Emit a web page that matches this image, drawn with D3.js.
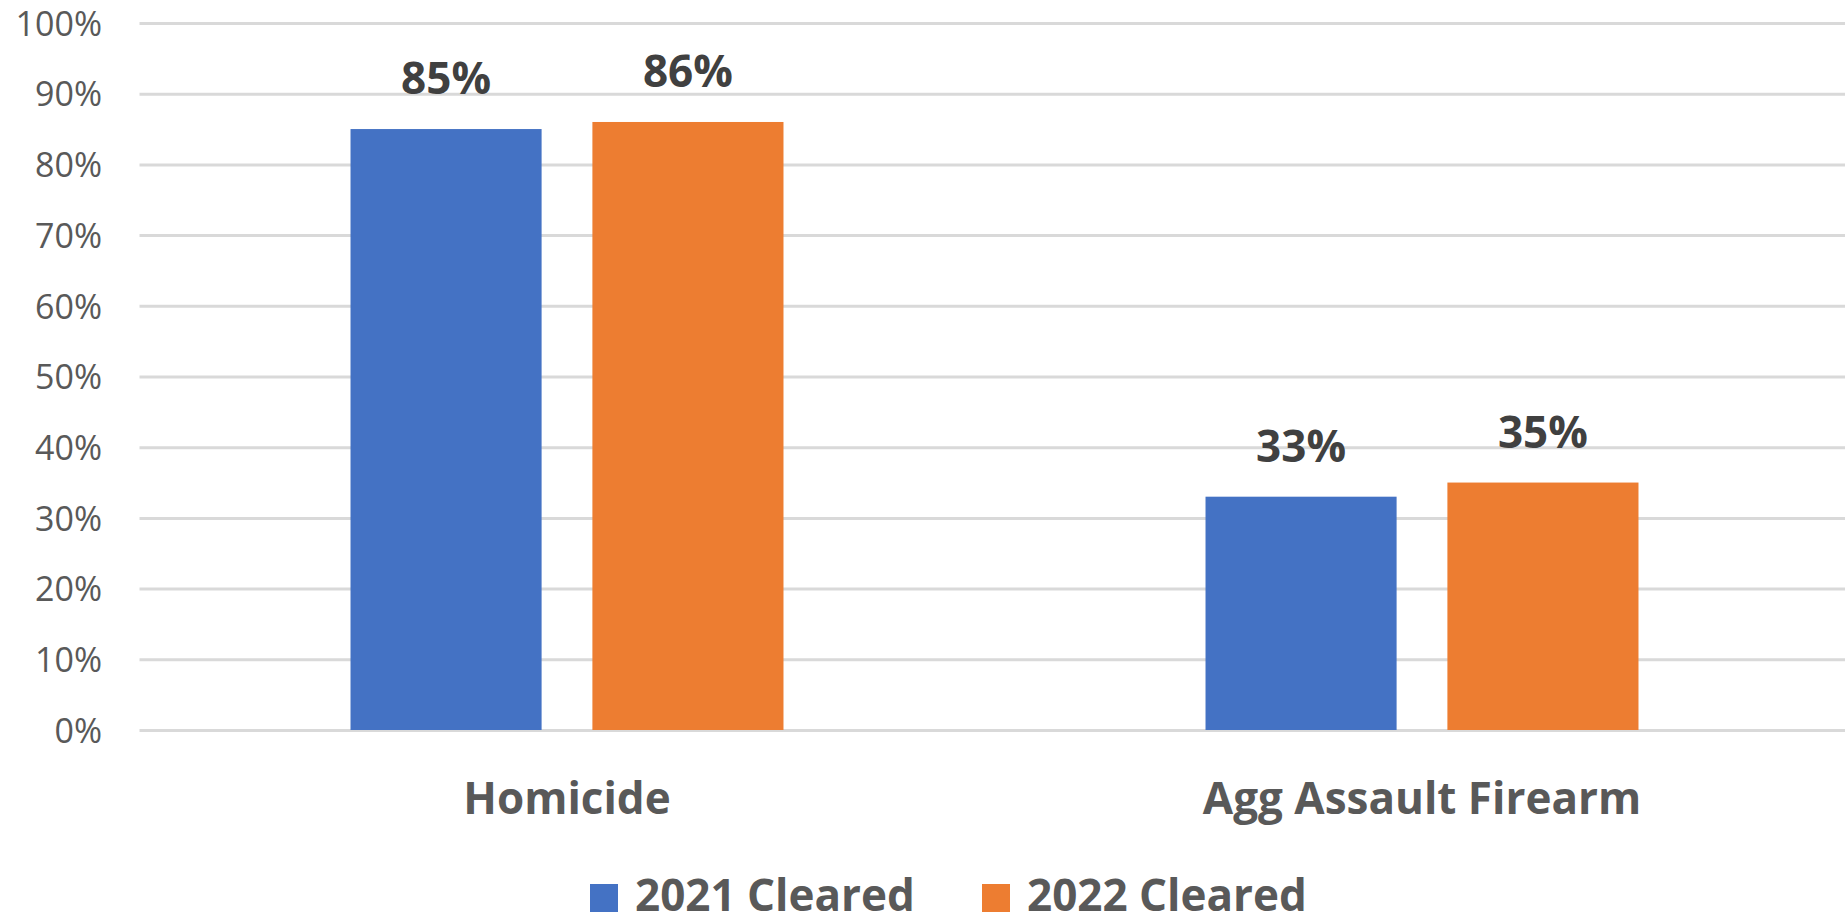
<!DOCTYPE html>
<html>
<head>
<meta charset="utf-8">
<script src="https://cdn.jsdelivr.net/npm/d3@7"></script>
<style>
  html, body { margin: 0; padding: 0; background: #ffffff; }
  svg { display: block; }
</style>
</head>
<body>
<svg id="chart" width="1845" height="924"></svg>
<script>
// ---- Data ----
const categories = ["Homicide", "Agg Assault Firearm"];
const seriesNames = ["2021 Cleared", "2022 Cleared"];
const cleared2021 = [0.85, 0.33];
const cleared2022 = [0.86, 0.35];
const yTicks = [0, 0.1, 0.2, 0.3, 0.4, 0.5, 0.6, 0.7, 0.8, 0.9, 1.0];
const colors = ["#4472C4", "#ED7D31"];

const seriesValues = [cleared2021, cleared2022];
const rows = categories.map((c, i) => ({
  category: c,
  values: seriesNames.map((s, j) => ({ series: s, value: seriesValues[j][i], color: colors[j] }))
}));

const svg = d3.select("#chart");
const W = 1845, H = 924;
const mLeft = 139.5, mRight = 1849.5, mTop = 23, mBottom = 730;

const y = d3.scaleLinear().domain([0, 1]).range([mBottom, mTop]);
const x0 = d3.scaleBand().domain(categories).range([mLeft, mRight])
  .paddingInner(0.4936).paddingOuter(0.2468);
const x1 = d3.scaleBand().domain(seriesNames).range([0, x0.bandwidth()]).paddingInner(0.21);

const font = "'Open Sans', 'Noto Sans', sans-serif";

// Gridlines + y tick labels via axis
const yAxis = d3.axisLeft(y).tickValues(yTicks).tickFormat(d3.format(".0%"))
  .tickSize(-(W - mLeft)).tickPadding(0);
const gy = svg.append("g").attr("transform", `translate(${mLeft},0)`).call(yAxis);
gy.select(".domain").remove();
gy.selectAll(".tick line").attr("stroke", "#d9d9d9").attr("stroke-width", 3);
gy.selectAll(".tick text")
  .attr("x", 102 - mLeft)
  .attr("dy", "0.36em")
  .attr("fill", "#595959")
  .style("font-family", font)
  .style("font-size", "34px")
  .attr("text-anchor", "end");

// Bars
const groups = svg.append("g").selectAll("g").data(rows).join("g")
  .attr("transform", d => `translate(${x0(d.category)},0)`);

groups.selectAll("rect").data(d => d.values).join("rect")
  .attr("x", d => x1(d.series))
  .attr("y", d => y(d.value))
  .attr("width", x1.bandwidth())
  .attr("height", d => y(0) - y(d.value))
  .attr("fill", d => d.color);

groups.selectAll("text.val").data(d => d.values).join("text")
  .attr("class", "val")
  .attr("x", d => x1(d.series) + x1.bandwidth() / 2)
  .attr("y", d => y(d.value) - 35)
  .attr("text-anchor", "middle")
  .attr("fill", "#404040")
  .style("font-family", font)
  .style("font-weight", "bold")
  .style("font-size", "44px")
  .text(d => d3.format(".0%")(d.value));

// Category axis labels
const xAxis = d3.axisBottom(x0).tickSize(0).tickPadding(0);
const gx = svg.append("g").attr("transform", `translate(0,${mBottom})`).call(xAxis);
gx.select(".domain").remove();
gx.selectAll(".tick text")
  .attr("y", 84)
  .attr("dy", 0)
  .attr("fill", "#595959")
  .style("font-family", font)
  .style("font-weight", "bold")
  .style("font-size", "44px");

// Legend
const legendItems = [
  { name: seriesNames[0], color: colors[0], x: 590 },
  { name: seriesNames[1], color: colors[1], x: 982 }
];
const lg = svg.append("g");
const li = lg.selectAll("g").data(legendItems).join("g")
  .attr("transform", d => `translate(${d.x},0)`);
li.append("rect").attr("x", 0).attr("y", 884).attr("width", 28).attr("height", 28)
  .attr("fill", d => d.color);
li.append("text").attr("x", 45).attr("y", 911)
  .attr("fill", "#595959")
  .style("font-family", font)
  .style("font-weight", "bold")
  .style("font-size", "44px")
  .text(d => d.name);
</script>
</body>
</html>
